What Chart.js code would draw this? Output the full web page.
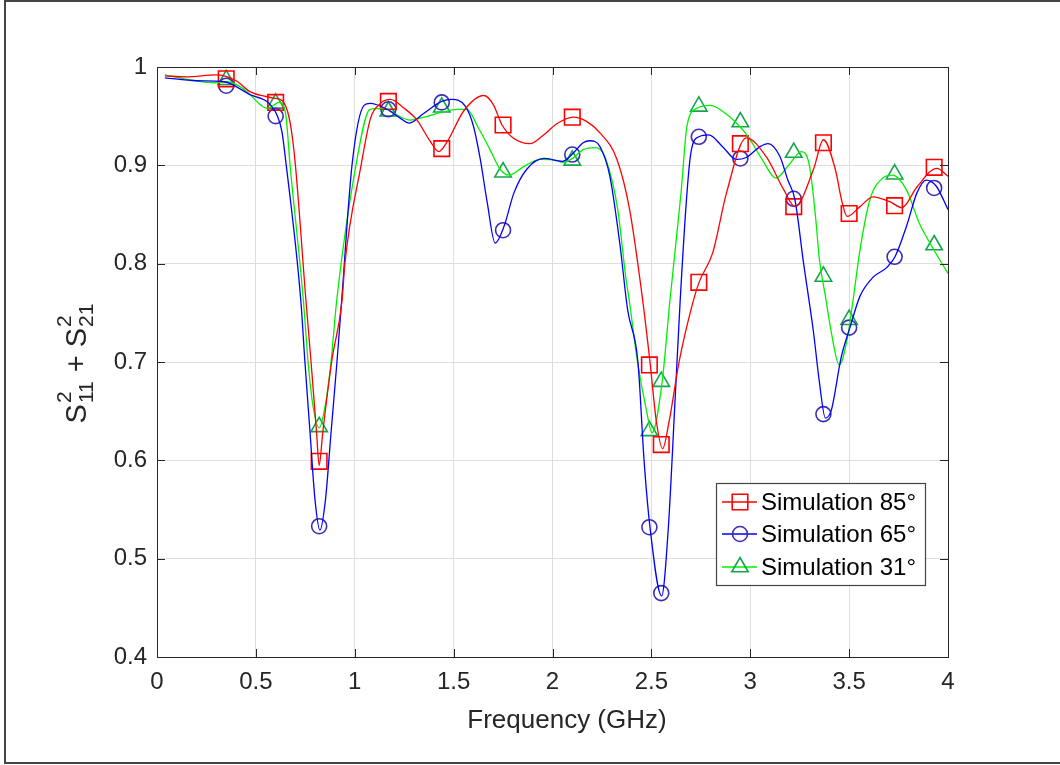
<!DOCTYPE html>
<html>
<head>
<meta charset="utf-8">
<script src="https://cdn.jsdelivr.net/npm/chart.js@4/dist/chart.umd.min.js"></script>
<style>
  body { margin: 0; background: #fff; }
  #wrap { width: 1060px; height: 765px; }
</style>
</head>
<body>
<div id="wrap"><canvas id="myChart" width="1060" height="765"></canvas></div>
<script>
// curves (GHz, value)
const freq85 = [0.04, 0.15, 0.30, 0.40, 0.47, 0.55, 0.60, 0.632, 0.66, 0.68, 0.70, 0.753, 0.779, 0.807, 0.82, 0.838, 0.883, 0.936, 0.95, 1.032, 1.08, 1.13, 1.18, 1.25, 1.315, 1.38, 1.425, 1.47, 1.55, 1.652, 1.70, 1.745, 1.80, 1.886, 1.95, 2.02, 2.104, 2.17, 2.24, 2.326, 2.39, 2.456, 2.493, 2.525, 2.557, 2.59, 2.64, 2.70, 2.741, 2.81, 2.88, 2.98, 3.08, 3.17, 3.226, 3.32, 3.37, 3.43, 3.465, 3.49, 3.555, 3.62, 3.706, 3.767, 3.843, 3.944, 4.0];
const val85 = [0.991, 0.990, 0.992, 0.986, 0.975, 0.970, 0.968, 0.966, 0.955, 0.935, 0.900, 0.763, 0.700, 0.628, 0.595, 0.628, 0.700, 0.763, 0.800, 0.900, 0.948, 0.963, 0.967, 0.958, 0.946, 0.925, 0.914, 0.925, 0.955, 0.971, 0.962, 0.941, 0.928, 0.922, 0.930, 0.942, 0.949, 0.945, 0.933, 0.906, 0.855, 0.763, 0.700, 0.640, 0.612, 0.640, 0.700, 0.753, 0.781, 0.811, 0.872, 0.928, 0.909, 0.875, 0.858, 0.896, 0.926, 0.896, 0.862, 0.848, 0.858, 0.868, 0.863, 0.857, 0.878, 0.897, 0.889];

const freq65 = [0.04, 0.20, 0.34, 0.47, 0.556, 0.58, 0.607, 0.632, 0.65, 0.727, 0.748, 0.774, 0.799, 0.824, 0.852, 0.88, 0.91, 0.934, 0.986, 1.047, 1.077, 1.163, 1.23, 1.275, 1.35, 1.44, 1.49, 1.56, 1.60, 1.635, 1.67, 1.71, 1.755, 1.805, 1.87, 1.957, 2.05, 2.108, 2.155, 2.19, 2.24, 2.29, 2.34, 2.38, 2.432, 2.463, 2.493, 2.552, 2.584, 2.62, 2.645, 2.68, 2.70, 2.74, 2.79, 2.86, 2.93, 2.98, 3.05, 3.09, 3.15, 3.19, 3.226, 3.27, 3.32, 3.35, 3.38, 3.41, 3.46, 3.504, 3.555, 3.62, 3.69, 3.732, 3.79, 3.843, 3.89, 3.94, 4.0];
const val65 = [0.989, 0.986, 0.985, 0.972, 0.965, 0.960, 0.951, 0.934, 0.906, 0.763, 0.700, 0.628, 0.560, 0.529, 0.560, 0.628, 0.700, 0.763, 0.900, 0.961, 0.963, 0.957, 0.948, 0.943, 0.953, 0.965, 0.967, 0.960, 0.940, 0.906, 0.862, 0.821, 0.838, 0.872, 0.896, 0.907, 0.904, 0.913, 0.923, 0.925, 0.919, 0.889, 0.821, 0.753, 0.700, 0.600, 0.532, 0.462, 0.526, 0.662, 0.760, 0.872, 0.913, 0.929, 0.931, 0.919, 0.906, 0.908, 0.919, 0.922, 0.909, 0.885, 0.865, 0.800, 0.730, 0.679, 0.643, 0.651, 0.705, 0.735, 0.767, 0.786, 0.796, 0.807, 0.838, 0.872, 0.885, 0.879, 0.855];

const freq31 = [0.04, 0.167, 0.29, 0.354, 0.42, 0.47, 0.52, 0.556, 0.597, 0.617, 0.65, 0.673, 0.74, 0.764, 0.789, 0.821, 0.85, 0.88, 0.909, 1.006, 1.077, 1.15, 1.215, 1.28, 1.35, 1.44, 1.517, 1.568, 1.62, 1.684, 1.735, 1.78, 1.856, 1.937, 2.02, 2.05, 2.108, 2.155, 2.22, 2.27, 2.33, 2.37, 2.39, 2.43, 2.476, 2.503, 2.554, 2.594, 2.65, 2.68, 2.73, 2.80, 2.86, 2.93, 2.99, 3.06, 3.13, 3.19, 3.26, 3.30, 3.33, 3.35, 3.38, 3.41, 3.45, 3.49, 3.52, 3.555, 3.605, 3.67, 3.72, 3.79, 3.855, 3.92, 4.0];
const val31 = [0.992, 0.987, 0.984, 0.985, 0.980, 0.972, 0.962, 0.958, 0.962, 0.964, 0.953, 0.900, 0.763, 0.700, 0.655, 0.633, 0.655, 0.700, 0.763, 0.900, 0.957, 0.958, 0.951, 0.946, 0.949, 0.954, 0.957, 0.957, 0.940, 0.916, 0.896, 0.890, 0.899, 0.906, 0.905, 0.903, 0.908, 0.916, 0.918, 0.906, 0.855, 0.787, 0.760, 0.700, 0.650, 0.628, 0.679, 0.763, 0.872, 0.940, 0.958, 0.961, 0.955, 0.943, 0.929, 0.906, 0.887, 0.899, 0.914, 0.899, 0.848, 0.804, 0.767, 0.730, 0.697, 0.723, 0.763, 0.814, 0.865, 0.887, 0.890, 0.875, 0.841, 0.817, 0.790];

// marker points
const markerFreq = [0.35, 0.6, 0.82, 1.17, 1.44, 1.75, 2.1, 2.49, 2.55, 2.74, 2.95, 3.22, 3.37, 3.5, 3.73, 3.93];
const marker85 = [0.988, 0.964, 0.599, 0.965, 0.917, 0.941, 0.949, 0.697, 0.616, 0.781, 0.922, 0.858, 0.923, 0.851, 0.859, 0.898];
const marker65 = [0.981, 0.950, 0.533, 0.957, 0.964, 0.834, 0.911, 0.532, 0.465, 0.929, 0.907, 0.866, 0.647, 0.735, 0.807, 0.877];
const marker31 = [0.987, 0.963, 0.634, 0.955, 0.959, 0.893, 0.905, 0.630, 0.680, 0.960, 0.944, 0.913, 0.787, 0.743, 0.891, 0.819];

const seriesNames = ['Simulation 85°', 'Simulation 65°', 'Simulation 31°'];
const xTicks = [0, 0.5, 1, 1.5, 2, 2.5, 3, 3.5, 4];
const yTicks = [0.4, 0.5, 0.6, 0.7, 0.8, 0.9, 1];

const lineColors = ['rgb(255,0,0)', 'rgb(0,0,255)', 'rgb(0,240,0)'];
const markColors = ['rgb(255,0,0)', 'rgb(60,45,180)', 'rgb(20,165,75)'];
const markStyles = ['rect', 'circle', 'triangle'];
const markRadius = [11, 7.5, 9.5];

function pts(xs, ys) {
    return xs.map((x, i) => ({ x: x, y: ys[i] }));
}

const lineSets = [[freq85, val85], [freq65, val65], [freq31, val31]];
const markSets = [marker85, marker65, marker31];

const datasets = [];
lineSets.forEach((s, i) => {
    datasets.push({
        label: seriesNames[i],
        data: pts(s[0], s[1]),
        showLine: true,
        borderColor: lineColors[i],
        borderWidth: 1.3,
        pointRadius: 0,
        cubicInterpolationMode: 'monotone',
    });
});
markSets.forEach((m, i) => {
    datasets.push({
        label: seriesNames[i] + ' markers',
        data: pts(markerFreq, m),
        showLine: false,
        pointStyle: markStyles[i],
        pointRadius: markRadius[i],
        pointBorderColor: markColors[i],
        pointBackgroundColor: 'rgba(0,0,0,0)',
        pointBorderWidth: 1.6,
    });
});

const fontFamily = 'Arial, "Liberation Sans", Helvetica, sans-serif';

// extra drawing: inward ticks, box, legend, axis titles, figure frame
const decor = {
    id: 'decor',
    afterDraw(chart) {
        const ctx = chart.ctx;
        const a = chart.chartArea;
        const xs = chart.scales.x, ys = chart.scales.y;
        ctx.save();

        // axes box
        ctx.strokeStyle = '#262626';
        ctx.lineWidth = 1;
        ctx.strokeRect(a.left + 0.5, a.top + 0.5, a.right - a.left, a.bottom - a.top);

        // ticks inside
        ctx.beginPath();
        xTicks.forEach(v => {
            const px = Math.round(xs.getPixelForValue(v)) + 0.5;
            ctx.moveTo(px, a.bottom); ctx.lineTo(px, a.bottom - 8);
            ctx.moveTo(px, a.top); ctx.lineTo(px, a.top + 8);
        });
        yTicks.forEach(v => {
            const py = Math.round(ys.getPixelForValue(v)) + 0.5;
            ctx.moveTo(a.left, py); ctx.lineTo(a.left + 8, py);
            ctx.moveTo(a.right, py); ctx.lineTo(a.right - 8, py);
        });
        ctx.stroke();

        // x title
        ctx.fillStyle = '#262626';
        ctx.font = '26px ' + fontFamily;
        ctx.textAlign = 'center';
        ctx.textBaseline = 'alphabetic';
        ctx.fillText('Frequency (GHz)', 567, 728);

        // y title: S^2_11 + S^2_21
        ctx.save();
        ctx.translate(86, 363);
        ctx.rotate(-Math.PI / 2);
        ctx.textAlign = 'left';
        const big = '29px ' + fontFamily, small = '21px ' + fontFamily;
        const parts = [['S', '2', '11'], [' + ', null, null], ['S', '2', '21']];
        let total = 0;
        parts.forEach(p => {
            ctx.font = big; total += ctx.measureText(p[0]).width;
            if (p[1]) { ctx.font = small; total += Math.max(ctx.measureText(p[1]).width, ctx.measureText(p[2]).width) + 2; }
        });
        let cx = -total / 2;
        parts.forEach(p => {
            ctx.font = big;
            ctx.fillText(p[0], cx, 0);
            cx += ctx.measureText(p[0]).width;
            if (p[1]) {
                ctx.font = small;
                ctx.fillText(p[1], cx + 1, -15);
                ctx.fillText(p[2], cx + 1, 7);
                cx += Math.max(ctx.measureText(p[1]).width, ctx.measureText(p[2]).width) + 2;
            }
        });
        ctx.restore();

        // legend
        const lx = 716, ly = 483, lw = 209, lh = 102;
        ctx.fillStyle = '#fff';
        ctx.fillRect(lx, ly, lw, lh);
        ctx.strokeStyle = '#444';
        ctx.lineWidth = 1.2;
        ctx.strokeRect(lx + 0.5, ly + 0.5, lw, lh);
        const rows = [502, 534, 567];
        rows.forEach((ry, i) => {
            ctx.strokeStyle = lineColors[i];
            ctx.lineWidth = 1.3;
            ctx.beginPath();
            ctx.moveTo(722, ry); ctx.lineTo(757, ry);
            ctx.stroke();
            ctx.strokeStyle = markColors[i];
            ctx.lineWidth = 1.6;
            ctx.beginPath();
            const r = markRadius[i];
            if (markStyles[i] === 'rect') {
                const h = r * Math.SQRT1_2;
                ctx.rect(740 - h, ry - h, 2 * h, 2 * h);
            } else if (markStyles[i] === 'circle') {
                ctx.arc(740, ry, r, 0, Math.PI * 2);
            } else {
                ctx.moveTo(740, ry - r);
                ctx.lineTo(740 + r * 0.866, ry + r / 2);
                ctx.lineTo(740 - r * 0.866, ry + r / 2);
                ctx.closePath();
            }
            ctx.stroke();
            ctx.fillStyle = '#000';
            ctx.font = '24px ' + fontFamily;
            ctx.textAlign = 'left';
            ctx.textBaseline = 'middle';
            ctx.fillText(seriesNames[i], 761, ry + 1);
        });

        // figure frame
        ctx.strokeStyle = '#444';
        ctx.lineWidth = 2;
        ctx.strokeRect(5, 1, 1070, 762);
        ctx.restore();
    }
};

const config = {
    type: 'scatter',
    data: { datasets: datasets },
    options: {
        responsive: false,
        animation: false,
        layout: { padding: { left: 0, top: 67, right: 112, bottom: 0 } },
        plugins: {
            legend: { display: false },
            tooltip: { enabled: false },
        },
        scales: {
            x: {
                type: 'linear',
                min: 0,
                max: 4,
                afterBuildTicks: s => { s.ticks = xTicks.map(v => ({ value: v })); },
                afterFit: s => { s.height = 108; },
                ticks: {
                    callback: v => String(+v.toFixed(1)),
                    color: '#262626',
                    font: { size: 24, family: fontFamily },
                    padding: 11,
                    maxRotation: 0,
                },
                grid: { color: '#dedede', drawTicks: false },
                border: { display: false },
            },
            y: {
                type: 'linear',
                min: 0.4,
                max: 1,
                afterBuildTicks: s => { s.ticks = yTicks.map(v => ({ value: v })); },
                afterFit: s => { s.width = 157; },
                ticks: {
                    callback: v => String(+v.toFixed(1)),
                    color: '#262626',
                    font: { size: 24, family: fontFamily },
                    padding: 10,
                },
                grid: { color: '#dedede', drawTicks: false },
                border: { display: false },
            },
        },
    },
    plugins: [decor],
};

var ctx = document.getElementById('myChart').getContext('2d');
var myChart = new Chart(ctx, config);
</script>
</body>
</html>
